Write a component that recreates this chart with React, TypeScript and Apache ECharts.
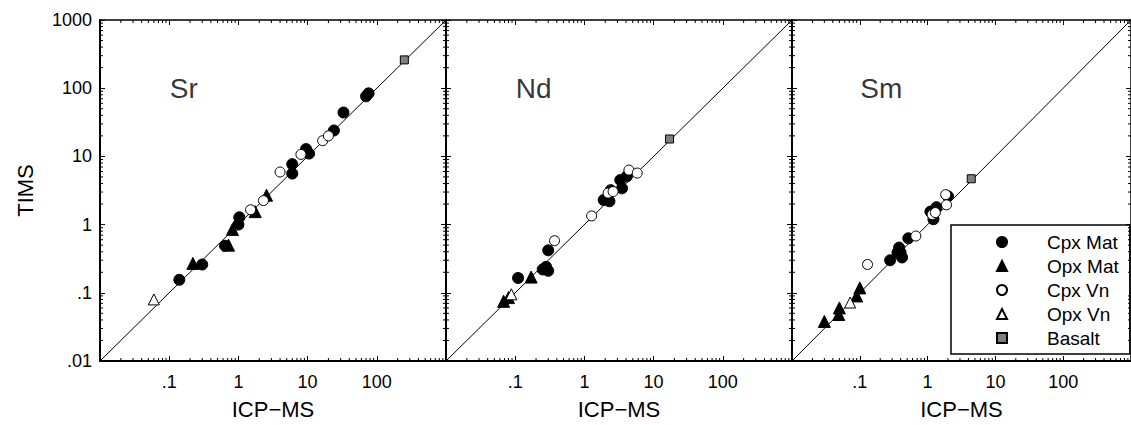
import React, { useEffect, useRef } from 'react';
import * as echarts from 'echarts';

const FONT = '"Liberation Sans", Arial, Helvetica, sans-serif';

const CATEGORIES = ['Cpx Mat', 'Opx Mat', 'Cpx Vn', 'Opx Vn', 'Basalt'];
const ELEMENTS = ['Sr', 'Nd', 'Sm'];
const AXIS_MIN = 0.01;
const AXIS_MAX = 1000;
const DECADES = [0.01, 0.1, 1, 10, 100];
const MINOR_STEPS = [2, 3, 4, 5, 6, 7, 8, 9];

// [ICP-MS, TIMS]
const srCpxMat = [[0.14, 0.155], [0.3, 0.26], [0.64, 0.49], [1.0, 1.0], [1.03, 1.28], [6, 7.7], [6, 5.6], [9.5, 12.8], [10.5, 11], [24, 24], [33, 44], [70, 76], [76, 84]];
const srOpxMat = [[0.22, 0.27], [0.72, 0.5], [0.82, 0.85], [1.75, 1.55], [2.55, 2.7]];
const srCpxVn = [[1.5, 1.65], [2.3, 2.25], [4.0, 5.9], [8, 10.7], [16.5, 17], [20, 20]];
const srOpxVn = [[0.06, 0.08]];
const srBasalt = [[250, 260]];

const ndCpxMat = [[0.11, 0.165], [0.25, 0.22], [0.28, 0.24], [0.3, 0.21], [0.3, 0.42], [1.9, 2.3], [2.3, 2.2], [2.4, 3.2], [3.3, 4.5], [3.5, 3.4], [4.1, 5.1]];
const ndOpxMat = [[0.068, 0.075], [0.08, 0.085], [0.17, 0.17]];
const ndCpxVn = [[0.37, 0.58], [1.27, 1.34], [2.2, 2.9], [2.6, 3.05], [4.4, 6.3], [5.8, 5.7]];
const ndOpxVn = [[0.088, 0.095]];
const ndBasalt = [[17, 18]];

const smCpxMat = [[0.28, 0.3], [0.36, 0.39], [0.38, 0.46], [0.4, 0.39], [0.42, 0.33], [0.52, 0.63], [1.1, 1.55], [1.22, 1.2], [1.35, 1.8], [2.0, 2.6]];
const smOpxMat = [[0.03, 0.038], [0.049, 0.048], [0.05, 0.06], [0.09, 0.09], [0.1, 0.118]];
const smCpxVn = [[0.13, 0.26], [0.67, 0.68], [1.17, 1.4], [1.3, 1.5], [1.85, 2.75], [1.9, 1.95]];
const smOpxVn = [[0.072, 0.072]];
const smBasalt = [[4.4, 4.7]];

const PANEL_DATA = [
  [srCpxMat, srOpxMat, srCpxVn, srOpxVn, srBasalt],
  [ndCpxMat, ndOpxMat, ndCpxVn, ndOpxVn, ndBasalt],
  [smCpxMat, smOpxMat, smCpxVn, smOpxVn, smBasalt],
];
const LABEL_POS = [0.1, 100];

const STYLES = [
  { symbol: 'circle', size: 11, color: '#000', border: '#000' },
  { symbol: 'triangle', size: 12, color: '#000', border: '#000' },
  { symbol: 'circle', size: 10, color: '#fff', border: '#000' },
  { symbol: 'triangle', size: 11, color: '#fff', border: '#000' },
  { symbol: 'rect', size: 8, color: '#808080', border: '#000' },
];

function fmt(v: number) {
  if (v < 0.05) return '.01';
  if (v < 0.5) return '.1';
  return String(Math.round(v));
}

function buildOption() {
  const PANEL_LEFT = 100;
  const PANEL_W = 346;
  const grid = ELEMENTS.map((_, i) => ({ left: PANEL_LEFT + i * PANEL_W, top: 20, width: PANEL_W, height: 345 }));
  const xAxis: any[] = [];
  const yAxis: any[] = [];
  const series: any[] = [];
  const minorVals: number[][] = [];
  DECADES.forEach((d) => MINOR_STEPS.forEach((s) => minorVals.push([d * s, d * s])));

  ELEMENTS.forEach((el, i) => {
    const base = {
      type: 'log', logBase: 10, gridIndex: i, min: AXIS_MIN, max: AXIS_MAX, splitNumber: 5,
      splitLine: { show: false },
    };
    xAxis.push({
      ...base, position: 'bottom',
      axisLine: { show: true, onZero: false, lineStyle: { color: '#000', width: 2 } },
      axisTick: { show: true, inside: true, length: 5, lineStyle: { color: '#000', width: 1 } },
      axisLabel: { show: true, margin: 12, fontSize: 18, color: '#000', fontFamily: FONT, formatter: fmt, showMinLabel: false, showMaxLabel: false },
      name: 'ICP\u2212MS', nameLocation: 'middle', nameGap: 37,
      nameTextStyle: { fontSize: 22, color: '#000', fontFamily: FONT },
    });
    xAxis.push({
      ...base, position: 'top',
      axisLine: { show: true, onZero: false, lineStyle: { color: '#000', width: 1.5 } },
      axisTick: { show: true, inside: true, length: 5, lineStyle: { color: '#000', width: 1 } },
      axisLabel: { show: false },
    });
    yAxis.push({
      ...base, position: 'left',
      axisLine: { show: true, onZero: false, lineStyle: { color: '#000', width: 2 } },
      axisTick: { show: true, inside: true, length: 5, lineStyle: { color: '#000', width: 1 } },
      axisLabel: { show: i === 0, margin: 8, fontSize: 18, color: '#000', fontFamily: FONT, formatter: fmt },
      name: i === 0 ? 'TIMS' : '', nameLocation: 'middle', nameGap: 64, nameRotate: 90,
      nameTextStyle: { fontSize: 22, color: '#000', fontFamily: FONT },
    });
    yAxis.push({
      ...base, position: 'right',
      axisLine: { show: true, onZero: false, lineStyle: { color: '#000', width: 1.5 } },
      axisTick: { show: true, inside: true, length: 5, lineStyle: { color: '#000', width: 1 } },
      axisLabel: { show: false },
    });

    // minor ticks on all four sides
    series.push({
      type: 'custom', xAxisIndex: 2 * i, yAxisIndex: 2 * i, silent: true, clip: false, z: 5,
      data: minorVals,
      renderItem: (params: any, api: any) => {
        const v = api.value(0);
        const b = api.coord([v, AXIS_MIN]);
        const t = api.coord([v, AXIS_MAX]);
        const l = api.coord([AXIS_MIN, v]);
        const r = api.coord([AXIS_MAX, v]);
        const L = 3;
        const st = { stroke: '#000', lineWidth: 1 };
        return {
          type: 'group',
          children: [
            { type: 'line', shape: { x1: b[0], y1: b[1], x2: b[0], y2: b[1] - L }, style: st },
            { type: 'line', shape: { x1: t[0], y1: t[1], x2: t[0], y2: t[1] + L }, style: st },
            { type: 'line', shape: { x1: l[0], y1: l[1], x2: l[0] + L, y2: l[1] }, style: st },
            { type: 'line', shape: { x1: r[0], y1: r[1], x2: r[0] - L, y2: r[1] }, style: st },
          ],
        };
      },
    });

    // 1:1 line
    series.push({
      type: 'line', xAxisIndex: 2 * i, yAxisIndex: 2 * i, silent: true, symbol: 'none',
      data: [[AXIS_MIN, AXIS_MIN], [AXIS_MAX, AXIS_MAX]],
      lineStyle: { color: '#000', width: 1 }, z: 1,
    });

    // element label
    series.push({
      type: 'scatter', xAxisIndex: 2 * i, yAxisIndex: 2 * i, silent: true,
      symbolSize: 1, itemStyle: { color: 'rgba(0,0,0,0)' },
      data: [LABEL_POS],
      label: { show: true, position: 'right', distance: 0, formatter: el, fontSize: 28, color: '#000', fontFamily: FONT },
    });

    PANEL_DATA[i].forEach((pts, k) => {
      const s = STYLES[k];
      series.push({
        name: CATEGORIES[k], type: 'scatter', xAxisIndex: 2 * i, yAxisIndex: 2 * i,
        symbol: s.symbol, symbolSize: s.size, data: pts, z: 3,
        itemStyle: { color: s.color, borderColor: s.border, borderWidth: 1, opacity: 1 },
      });
    });
  });

  return {
    animation: false,
    backgroundColor: '#fff',
    textStyle: { fontFamily: FONT },
    grid,
    xAxis,
    yAxis,
    series,
    legend: {
      data: CATEGORIES, orient: 'vertical', left: 951, top: 225,
      padding: [7, 11, 6, 45], itemGap: 4, itemWidth: 10, itemHeight: 10,
      borderColor: '#000', borderWidth: 1.5, backgroundColor: '#fff', borderRadius: 0,
      selectedMode: false,
      textStyle: { fontSize: 19, fontFamily: FONT, color: '#000', padding: [0, 0, 0, 35], lineHeight: 20 },
    },
  };
}

export default function App() {
  const ref = useRef<HTMLDivElement>(null);
  useEffect(() => {
    const chart = echarts.init(ref.current!, null, { renderer: 'svg' });
    chart.setOption(buildOption() as any);
    return () => chart.dispose();
  }, []);
  return (
    <div
      ref={ref}
      style={{ position: 'absolute', left: 0, top: 0, width: 1131, height: 425, background: '#fff' }}
    />
  );
}
